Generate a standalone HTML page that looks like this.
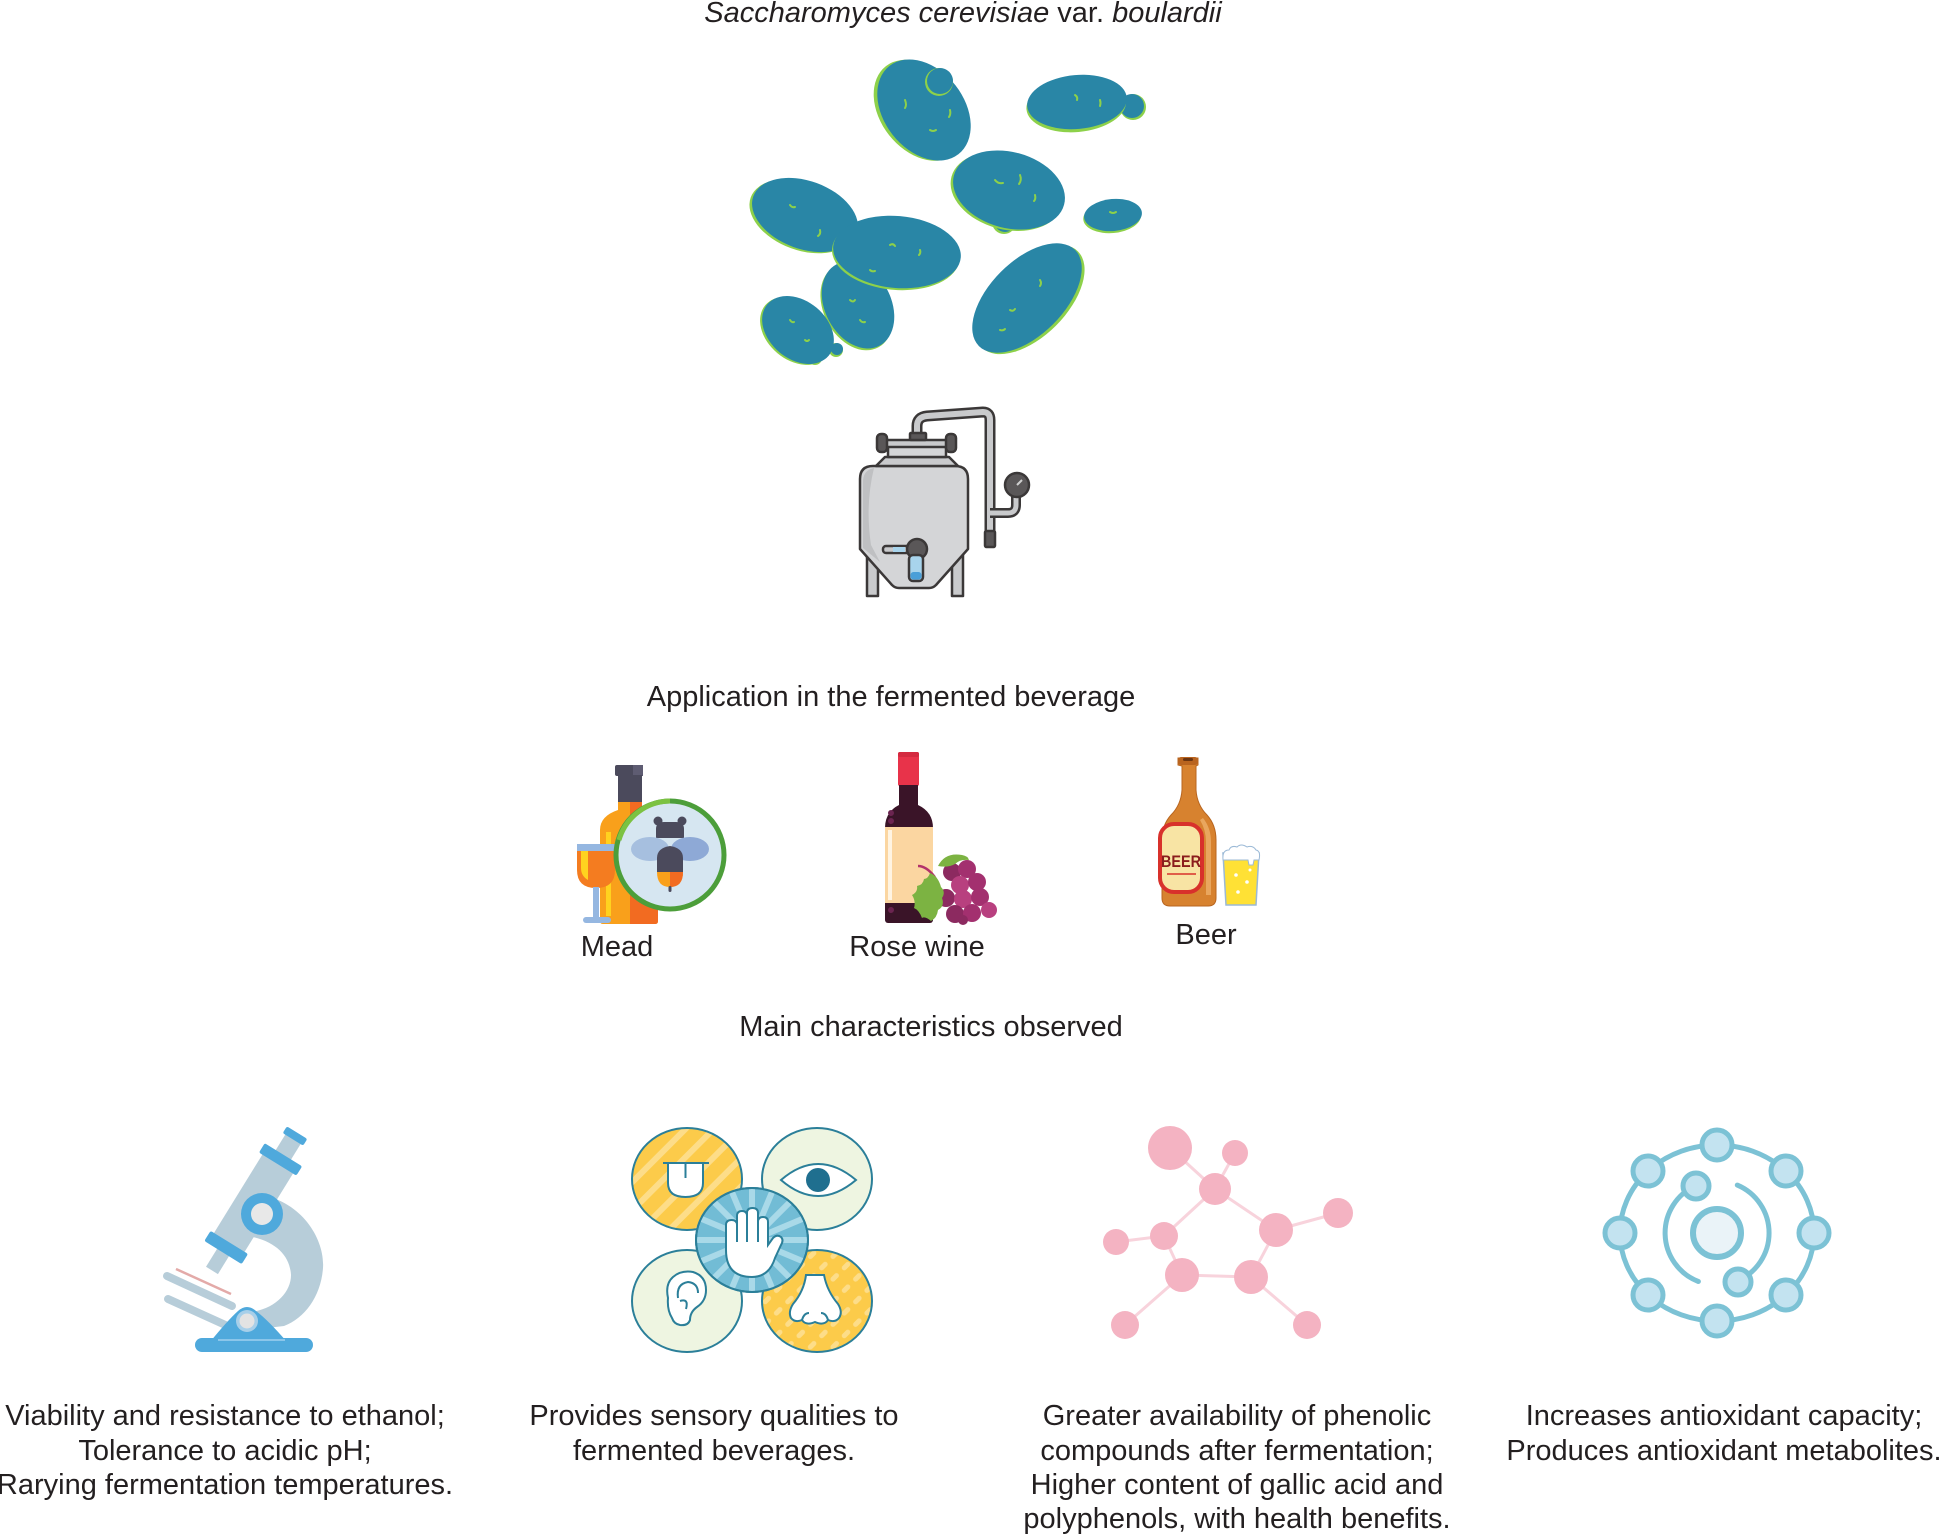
<!DOCTYPE html>
<html><head><meta charset="utf-8"><style>
html,body{margin:0;padding:0;background:#fff;}
svg{display:block;}
text{font-family:"Liberation Sans",Arial,sans-serif;fill:#231f20;}
</style></head><body>
<svg xmlns="http://www.w3.org/2000/svg" width="1939" height="1535" viewBox="0 0 1939 1535">
<defs>
 <pattern id="stripeA" width="20" height="20" patternUnits="userSpaceOnUse" patternTransform="rotate(45)"><rect x="0" y="0" width="6" height="20" fill="#fff" opacity="0.35"/></pattern>
 <pattern id="dashB" width="16" height="16" patternUnits="userSpaceOnUse" patternTransform="rotate(-45)"><rect x="2" y="3" width="10" height="5" rx="2.5" fill="#fff" opacity="0.35"/></pattern>
 <clipPath id="centerClip"><ellipse cx="752" cy="1240" rx="55" ry="51"/></clipPath>
</defs>

<!-- Title -->
<text x="963" y="22" text-anchor="middle" font-size="29"><tspan font-style="italic">Saccharomyces cerevisiae</tspan> var. <tspan font-style="italic">boulardii</tspan></text>

<!-- Yeast cells -->
<g>
 <g transform="translate(924,110) rotate(52)">
  <ellipse cx="-2" cy="3" rx="56" ry="40" fill="#8dd14a"/>
  <ellipse cx="0" cy="0" rx="56" ry="40" fill="#2986a6"/>
 </g>
 <circle cx="939" cy="82" r="14" fill="#8dd14a"/>
 <circle cx="940" cy="81" r="13" fill="#2986a6"/>
 <circle cx="1133" cy="107" r="13" fill="#8dd14a"/>
 <circle cx="1132" cy="106" r="12" fill="#2986a6"/>
 <g transform="translate(1077,102) rotate(-5)">
  <ellipse cx="-1" cy="3" rx="50" ry="27" fill="#8dd14a"/>
  <ellipse cx="0" cy="0" rx="50" ry="27" fill="#2986a6"/>
 </g>
 <circle cx="1004" cy="222" r="12" fill="#8dd14a"/>
 <circle cx="1005" cy="221" r="11" fill="#2986a6"/>
 <g transform="translate(1009,190) rotate(15)">
  <ellipse cx="-2" cy="2" rx="57" ry="38" fill="#8dd14a"/>
  <ellipse cx="0" cy="0" rx="57" ry="38" fill="#2986a6"/>
 </g>
 <g transform="translate(1113,215) rotate(-5)">
  <ellipse cx="-1" cy="2" rx="29" ry="16" fill="#8dd14a"/>
  <ellipse cx="0" cy="0" rx="29" ry="16" fill="#2986a6"/>
 </g>
 <g transform="translate(858,305) rotate(62)">
  <ellipse cx="1" cy="2" rx="46" ry="33" fill="#8dd14a"/>
  <ellipse cx="0" cy="0" rx="46" ry="33" fill="#2986a6"/>
 </g>
 <g transform="translate(805,215) rotate(20)">
  <ellipse cx="-2" cy="2" rx="55" ry="34" fill="#8dd14a"/>
  <ellipse cx="0" cy="0" rx="55" ry="34" fill="#2986a6"/>
 </g>
 <g transform="translate(897,252) rotate(5)">
  <ellipse cx="-1" cy="2" rx="64" ry="36" fill="#8dd14a"/>
  <ellipse cx="0" cy="0" rx="64" ry="36" fill="#2986a6"/>
 </g>
 <circle cx="815" cy="358" r="7" fill="#8dd14a"/>
 <circle cx="816" cy="357" r="6" fill="#2986a6"/>
 <circle cx="836" cy="350" r="7" fill="#8dd14a"/>
 <circle cx="837" cy="349" r="6" fill="#2986a6"/>
 <g transform="translate(798,330) rotate(40)">
  <ellipse cx="-1" cy="2" rx="40" ry="29" fill="#8dd14a"/>
  <ellipse cx="0" cy="0" rx="40" ry="29" fill="#2986a6"/>
 </g>
 <g transform="translate(1027,298) rotate(-45)">
  <ellipse cx="1" cy="3" rx="68" ry="37" fill="#8dd14a"/>
  <ellipse cx="0" cy="0" rx="68" ry="37" fill="#2986a6"/>
 </g>
 <g stroke="#8dd14a" stroke-width="2" fill="none" stroke-linecap="round">
  <path d="M905 100 q2 5 0 8"/><path d="M930 130 q3 2 6 0"/><path d="M950 110 q1 4 -1 7"/>
  <path d="M1075 95 q3 2 2 5"/><path d="M1100 100 q1 3 0 6"/>
  <path d="M995 180 q3 4 8 3"/><path d="M1020 175 q2 5 -1 9"/><path d="M1035 195 q1 4 -1 6"/>
  <path d="M790 205 q2 3 5 2"/><path d="M820 230 q1 4 -2 6"/>
  <path d="M890 245 q3 -2 5 1"/><path d="M920 250 q1 3 -1 5"/><path d="M870 270 q2 2 5 1"/>
  <path d="M850 300 q3 3 5 0"/><path d="M860 320 q2 3 5 2"/>
  <path d="M790 320 q2 3 4 2"/><path d="M805 340 q2 2 4 0"/>
  <path d="M1010 310 q3 2 5 -1"/><path d="M1040 280 q2 3 0 6"/><path d="M1000 330 q3 1 5 -1"/>
  <path d="M1110 212 q3 2 6 0"/>
 </g>
</g>

<!-- Fermenter -->
<g stroke="#3b3838" stroke-width="2.5" stroke-linejoin="round">
 <path d="M917 440 L917 426 Q917 417 927 416 L983 412 Q990 412 990 420 L990 533" fill="none" stroke="#3b3838" stroke-width="11" stroke-linecap="round"/>
 <path d="M917 440 L917 426 Q917 417 927 416 L983 412 Q990 412 990 420 L990 533" fill="none" stroke="#c9cacc" stroke-width="6"/>
 <path d="M990 513 L1008 513 Q1016 513 1016 505 L1016 496" fill="none" stroke="#3b3838" stroke-width="10"/>
 <path d="M990 513 L1008 513 Q1016 513 1016 505 L1016 496" fill="none" stroke="#c9cacc" stroke-width="5"/>
 <rect x="985" y="531" width="10" height="16" rx="1.5" fill="#5a5758"/>
 <circle cx="1017" cy="485" r="12" fill="#5a5758"/>
 <path d="M1017 485 l5 -5" stroke="#cfcfcf" stroke-width="2"/>
 <rect x="867" y="550" width="11" height="46" fill="#c9cacc"/>
 <rect x="952" y="550" width="11" height="46" fill="#c9cacc"/>
 <path d="M860 479 Q860 466 873 466 L955 466 Q968 466 968 479 L968 549 L936 585 Q933 588 929 588 L899 588 Q895 588 892 585 L860 549 Z" fill="#d4d5d7"/>
 <path d="M863 480 Q864 470 874 468 Q865 505 871 545 L880 562 L863 548 Z" fill="#bfc0c2" stroke="none"/>
 <path d="M876 466 L885 457 L949 457 L958 466 Z" fill="#c9cacc"/>
 <rect x="888" y="446" width="58" height="11" fill="#d4d5d7"/>
 <rect x="883" y="440" width="68" height="7" rx="2" fill="#c9cacc"/>
 <rect x="877" y="434" width="10" height="18" rx="4" fill="#5a5758"/>
 <rect x="946" y="434" width="10" height="18" rx="4" fill="#5a5758"/>
 <rect x="910" y="433" width="16" height="7" rx="1" fill="#5a5758"/>
 <rect x="883" y="546" width="30" height="7" rx="3" fill="#c9cacc"/>
 <rect x="893" y="547" width="12" height="5" fill="#a8d4ec" stroke="none"/>
 <circle cx="917" cy="549" r="10" fill="#5a5758"/>
 <rect x="909" y="555" width="14" height="26" rx="4" fill="#a8d4ec"/>
 <rect x="910.5" y="572" width="11" height="7.5" rx="3" fill="#4a9fd8" stroke="none"/>
</g>

<text x="891" y="706" text-anchor="middle" font-size="29">Application in the fermented beverage</text>

<!-- Mead icon -->
<g>
 <rect x="615" y="765" width="28" height="11" rx="2" fill="#4b4a5c"/>
 <rect x="633" y="765" width="10" height="11" fill="#5e5c72"/>
 <rect x="618" y="775" width="24" height="28" fill="#4b4a5c"/>
 <path d="M618 802 L642 802 L642 810 Q658 816 658 830 L658 921 Q658 924 655 924 L603 924 Q600 924 600 921 L600 830 Q600 816 618 810 Z" fill="#f9a01b"/>
 <path d="M630 802 L642 802 L642 810 Q658 816 658 830 L658 921 Q658 924 655 924 L630 924 Z" fill="#f26b21"/>
 <rect x="606" y="832" width="5" height="84" fill="#ffd21f"/>
 <path d="M577 844 L615 844 L615 870 Q615 888 596 888 Q577 888 577 870 Z" fill="#f47c20"/>
 <rect x="577" y="844" width="38" height="7" fill="#95b7e1"/>
 <path d="M581 851 L588 851 L588 880 Q581 876 581 868 Z" fill="#ffd21f"/>
 <rect x="593" y="887" width="6" height="31" fill="#95b7e1"/>
 <rect x="583" y="917" width="28" height="6" rx="3" fill="#95b7e1"/>
 <circle cx="670" cy="855" r="54" fill="#d6e6f1" stroke="#4c9e3a" stroke-width="5"/>
 <path d="M670 801 A54 54 0 0 0 619 840" fill="none" stroke="#7cc242" stroke-width="5"/>
 <circle cx="658" cy="821" r="4.5" fill="#4b4a5c"/>
 <circle cx="682" cy="821" r="4.5" fill="#4b4a5c"/>
 <path d="M656 838 L656 829 Q656 822 664 822 L676 822 Q684 822 684 829 L684 838 Z" fill="#4b4a5c"/>
 <ellipse cx="650" cy="849" rx="19" ry="12" fill="#a6bfdf"/>
 <ellipse cx="690" cy="849" rx="19" ry="12" fill="#8ea9d6"/>
 <path d="M657 858 Q657 848 670 846 Q683 848 683 858 L683 872 L657 872 Z" fill="#4b4a5c"/>
 <path d="M657 872 L683 872 Q683 887 670 887 Q657 887 657 872 Z" fill="#f9a01b"/>
 <path d="M670 872 L683 872 Q683 887 670 887 Z" fill="#f26b21"/>
 <rect x="668.5" y="886" width="3" height="6" rx="1.5" fill="#4b4a5c"/>
</g>
<text x="617" y="956" text-anchor="middle" font-size="29">Mead</text>

<!-- Rose wine -->
<g>
 <rect x="898" y="752" width="21" height="34" rx="2" fill="#e8334a"/>
 <rect x="898" y="752" width="21" height="5" rx="2" fill="#d42a40"/>
 <rect x="899" y="785" width="19" height="22" fill="#3a1428"/>
 <path d="M899 805 L918 805 Q933 812 933 828 L885 828 Q885 812 899 805 Z" fill="#3a1428"/>
 <rect x="885" y="826" width="48" height="97" rx="3" fill="#3a1428"/>
 <rect x="885" y="827" width="48" height="76" fill="#fbd6a1"/>
 <rect x="888" y="830" width="4" height="70" fill="#fff4e2"/>
 <circle cx="891" cy="813" r="3" fill="#6b2450"/>
 <circle cx="891" cy="821" r="3" fill="#6b2450"/>
 <circle cx="891" cy="910" r="3" fill="#6b2450"/>
 <path d="M918 866 Q926 866 934 876 L938 883" stroke="#b3336b" stroke-width="2.5" fill="none"/>
 <g>
  <circle cx="952" cy="872" r="9" fill="#8c2a60"/>
  <circle cx="967" cy="869" r="9" fill="#a3306f"/>
  <circle cx="960" cy="885" r="9" fill="#b8407f"/>
  <circle cx="977" cy="882" r="9" fill="#a3306f"/>
  <circle cx="946" cy="898" r="9" fill="#8c2a60"/>
  <circle cx="963" cy="899" r="9" fill="#b8407f"/>
  <circle cx="980" cy="897" r="9" fill="#a3306f"/>
  <circle cx="989" cy="910" r="8" fill="#b8407f"/>
  <circle cx="955" cy="914" r="9" fill="#8c2a60"/>
  <circle cx="972" cy="913" r="9" fill="#a3306f"/>
  <circle cx="963" cy="920" r="5" fill="#8c2a60"/>
 </g>
 <path d="M938 866 Q945 852 962 855 Q968 856 969 860 Q960 859 955 864 Q948 868 938 866 Z" fill="#7cb342"/>
 <path d="M930 873 Q938 876 941 887 Q946 892 942 898 Q945 906 938 910 Q937 918 931 921 Q925 916 922 918 Q919 910 914 908 Q916 901 912 895 Q918 892 917 886 Q923 885 924 879 Q928 879 930 873 Z" fill="#7cb342"/>
</g>
<text x="917" y="956" text-anchor="middle" font-size="29">Rose wine</text>

<!-- Beer -->
<g>
 <path d="M1178 758 L1198 758 L1198 765 L1196 766 L1196 790 Q1197 805 1207 815 Q1216 825 1216 840 L1216 898 Q1216 906 1208 906 L1170 906 Q1162 906 1162 898 L1162 840 Q1162 825 1171 815 Q1181 805 1182 790 L1182 766 L1178 765 Z" fill="#d7822f" stroke="#b8651f" stroke-width="1"/>
 <rect x="1178" y="757" width="20" height="8" rx="3" fill="#b9641f"/>
 <rect x="1183" y="758" width="10" height="3" rx="1.5" fill="#6b3410"/>
 <path d="M1203 818 Q1211 828 1211 842 L1211 895 L1206 895 L1206 842 Q1206 830 1200 820 Z" fill="#e9a65e"/>
 <rect x="1160" y="824" width="42" height="68" rx="14" fill="#f8e4a4" stroke="#d8312b" stroke-width="4"/>
 <text x="1181" y="867" text-anchor="middle" font-size="17" font-weight="bold" textLength="40" lengthAdjust="spacingAndGlyphs" style="fill:#8b1d1d">BEER</text>
 <line x1="1167" y1="874" x2="1196" y2="874" stroke="#d8312b" stroke-width="1.5"/>
 <path d="M1223 853 L1259 853 L1256 905 L1226 905 Z" fill="#ffe135" stroke="#9bb9d6" stroke-width="1.5"/>
 <path d="M1223 860 Q1222 850 1229 850 Q1231 845 1237 847 Q1241 843 1247 847 Q1253 845 1256 850 Q1261 851 1259 860 L1254 860 L1253 865 L1249 865 L1248 860 Z" fill="#fff" stroke="#9bb9d6" stroke-width="1"/>
 <circle cx="1236" cy="875" r="1.8" fill="#fff"/>
 <circle cx="1247" cy="882" r="1.8" fill="#fff"/>
 <circle cx="1238" cy="892" r="1.8" fill="#fff"/>
 <circle cx="1250" cy="870" r="1.5" fill="#fff"/>
</g>
<text x="1206" y="944" text-anchor="middle" font-size="29">Beer</text>

<text x="931" y="1036" text-anchor="middle" font-size="29">Main characteristics observed</text>

<!-- Microscope -->
<g>
 <line x1="168" y1="1299" x2="232" y2="1328" stroke="#b7cdd9" stroke-width="8" stroke-linecap="round"/>
 <line x1="167" y1="1276" x2="232" y2="1306" stroke="#b7cdd9" stroke-width="8" stroke-linecap="round"/>
 <line x1="176" y1="1269" x2="231" y2="1294" stroke="#e3aaa8" stroke-width="2.5"/>
 <path d="M262 1195 C303 1203 325 1240 323 1268 C321 1296 305 1318 284 1326 L250 1330 L252 1312 C276 1308 291 1292 291 1275 C290 1256 276 1241 248 1236 Z" fill="#b7cdd9"/>
 <g transform="translate(295,1136) rotate(31.7)">
  <rect x="-9" y="0" width="18" height="30" fill="#b7cdd9"/>
  <rect x="-18" y="30" width="36" height="98" fill="#b7cdd9"/>
  <rect x="-7" y="134" width="14" height="24" fill="#b7cdd9"/>
  <rect x="-12" y="-4" width="24" height="8" rx="2" fill="#4fa9dc"/>
  <rect x="-22" y="22" width="44" height="11" rx="2" fill="#4fa9dc"/>
  <rect x="-22" y="125" width="44" height="12" rx="2" fill="#4fa9dc"/>
 </g>
 <circle cx="262" cy="1214" r="21" fill="#4fa9dc"/>
 <circle cx="262" cy="1214" r="11" fill="#e8e8e8"/>
 <path d="M210 1342 Q228 1320 238 1311 Q247 1303 256 1311 Q268 1320 287 1342 Z" fill="#4fa9dc"/>
 <circle cx="247" cy="1321" r="11" fill="#a7cfe9"/>
 <circle cx="247" cy="1321" r="7.5" fill="#e3e3e3"/>
 <rect x="195" y="1338" width="118" height="14" rx="7" fill="#4fa9dc"/>
 <line x1="218" y1="1340" x2="285" y2="1340" stroke="#9fd0ee" stroke-width="1.5"/>
</g>

<!-- Senses -->
<g stroke="#2b7f99" stroke-width="2">
 <ellipse cx="687" cy="1179" rx="55" ry="51" fill="#fccb4a"/>
 <ellipse cx="687" cy="1179" rx="54" ry="50" fill="url(#stripeA)" stroke="none"/>
 <ellipse cx="817" cy="1179" rx="55" ry="51" fill="#eef5e1"/>
 <ellipse cx="687" cy="1301" rx="55" ry="51" fill="#eef5e1"/>
 <ellipse cx="817" cy="1301" rx="55" ry="51" fill="#fccb4a"/>
 <ellipse cx="817" cy="1301" rx="54" ry="50" fill="url(#dashB)" stroke="none"/>
 <ellipse cx="752" cy="1240" rx="56" ry="52" fill="#72bcd5"/>
 <g clip-path="url(#centerClip)" stroke="#a9d9e8" stroke-width="6">
  <line x1="752" y1="1240" x2="812" y2="1240"/><line x1="752" y1="1240" x2="807" y2="1263"/>
  <line x1="752" y1="1240" x2="794" y2="1282"/><line x1="752" y1="1240" x2="775" y2="1295"/>
  <line x1="752" y1="1240" x2="752" y2="1300"/><line x1="752" y1="1240" x2="729" y2="1295"/>
  <line x1="752" y1="1240" x2="710" y2="1282"/><line x1="752" y1="1240" x2="697" y2="1263"/>
  <line x1="752" y1="1240" x2="692" y2="1240"/><line x1="752" y1="1240" x2="697" y2="1217"/>
  <line x1="752" y1="1240" x2="710" y2="1198"/><line x1="752" y1="1240" x2="729" y2="1185"/>
  <line x1="752" y1="1240" x2="752" y2="1180"/><line x1="752" y1="1240" x2="775" y2="1185"/>
  <line x1="752" y1="1240" x2="794" y2="1198"/><line x1="752" y1="1240" x2="807" y2="1217"/>
 </g>
 <ellipse cx="752" cy="1240" rx="56" ry="52" fill="none"/>
 <path d="M726 1250 L726 1225 Q726 1220 731.5 1220 Q737 1220 737 1225 L737 1216 Q737 1211 742 1211 Q747 1211 747 1216 L747 1213 Q747 1208 752.5 1208 Q758 1208 758 1213 L758 1222 Q758 1217 763 1217 Q768 1217 768 1222 L768 1245 L773 1238 Q777 1234 781 1237 Q784 1240 781 1245 L775 1258 Q769 1277 752 1277 Q726 1277 726 1250 Z" fill="#fff"/>
 <path d="M737 1225 L737 1242 M747 1216 L747 1242 M758 1222 L758 1242" fill="none"/>
 <line x1="663" y1="1163" x2="709" y2="1163"/>
 <path d="M668 1163 L668 1183 Q668 1197 685.5 1197 Q703 1197 703 1183 L703 1163 Z" fill="#fff"/>
 <line x1="685.5" y1="1163" x2="685.5" y2="1178"/>
 <path d="M781 1180 Q818 1148 856 1180 Q818 1212 781 1180 Z" fill="#fff"/>
 <circle cx="818" cy="1180" r="12" fill="#1f6f8f" stroke="none"/>
 <path d="M672 1318 Q667 1310 668 1298 Q665 1284 673 1277 Q681 1270 693 1272 Q706 1276 706 1290 Q706 1301 697 1307 Q690 1312 690 1320 Q688 1326 680 1325 Q674 1324 672 1318 Z" fill="#fff"/>
 <path d="M678 1298 Q676 1284 688 1282 Q698 1283 698 1293" fill="none"/>
 <path d="M680 1301 Q689 1298 686 1309" fill="none"/>
 <path d="M806 1275 L824 1275 Q827 1291 838 1304 Q843 1312 839 1318 Q835 1323 828 1320 Q824 1326 815 1322 Q806 1326 802 1320 Q795 1323 791 1318 Q788 1312 793 1304 Q804 1291 806 1275 Z" fill="#fff"/>
 <path d="M802 1320 Q804 1313 809 1313 M828 1320 Q826 1313 821 1313" fill="none"/>
</g>

<!-- Molecule -->
<g stroke="#f8d3dc" stroke-width="3">
 <line x1="1170" y1="1148" x2="1215" y2="1189"/>
 <line x1="1235" y1="1153" x2="1215" y2="1189"/>
 <line x1="1215" y1="1189" x2="1164" y2="1236"/>
 <line x1="1215" y1="1189" x2="1276" y2="1230"/>
 <line x1="1276" y1="1230" x2="1338" y2="1213"/>
 <line x1="1276" y1="1230" x2="1251" y2="1277"/>
 <line x1="1251" y1="1277" x2="1182" y2="1275"/>
 <line x1="1182" y1="1275" x2="1164" y2="1236"/>
 <line x1="1164" y1="1236" x2="1116" y2="1242"/>
 <line x1="1182" y1="1275" x2="1125" y2="1325"/>
 <line x1="1251" y1="1277" x2="1307" y2="1325"/>
</g>
<g fill="#f4b3c2">
 <circle cx="1170" cy="1148" r="22"/>
 <circle cx="1235" cy="1153" r="13"/>
 <circle cx="1215" cy="1189" r="16"/>
 <circle cx="1338" cy="1213" r="15"/>
 <circle cx="1276" cy="1230" r="17"/>
 <circle cx="1116" cy="1242" r="13"/>
 <circle cx="1164" cy="1236" r="14"/>
 <circle cx="1182" cy="1275" r="17"/>
 <circle cx="1251" cy="1277" r="17"/>
 <circle cx="1125" cy="1325" r="14"/>
 <circle cx="1307" cy="1325" r="14"/>
</g>

<!-- Atom -->
<g stroke="#7cc2d5" stroke-width="5" fill="#c3e3f0">
 <ellipse cx="1717" cy="1233" rx="97" ry="88" fill="none"/>
 <path d="M1698.4 1281.5 A52 52 0 0 1 1695.9 1185.5" fill="none" stroke-linecap="round"/>
 <path d="M1737.3 1185.1 A52 52 0 0 1 1737.3 1280.9" fill="none" stroke-linecap="round"/>
 <circle cx="1814" cy="1233" r="15"/>
 <circle cx="1786" cy="1171" r="15"/>
 <circle cx="1717" cy="1145" r="15"/>
 <circle cx="1648" cy="1171" r="15"/>
 <circle cx="1620" cy="1233" r="15"/>
 <circle cx="1648" cy="1295" r="15"/>
 <circle cx="1717" cy="1321" r="15"/>
 <circle cx="1786" cy="1295" r="15"/>
 <circle cx="1696" cy="1186" r="13"/>
 <circle cx="1738" cy="1282" r="13"/>
 <circle cx="1717" cy="1233" r="24" fill="#eaf3f8" stroke-width="6"/>
</g>

<!-- Bottom texts -->
<g font-size="29" text-anchor="middle">
 <text x="225" y="1425">Viability and resistance to ethanol;</text>
 <text x="225" y="1460">Tolerance to acidic pH;</text>
 <text x="225" y="1494">Rarying fermentation temperatures.</text>

 <text x="714" y="1425">Provides sensory qualities to</text>
 <text x="714" y="1460">fermented beverages.</text>

 <text x="1237" y="1425">Greater availability of phenolic</text>
 <text x="1237" y="1460">compounds after fermentation;</text>
 <text x="1237" y="1494">Higher content of gallic acid and</text>
 <text x="1237" y="1528">polyphenols, with health benefits.</text>

 <text x="1724" y="1425">Increases antioxidant capacity;</text>
 <text x="1724" y="1460">Produces antioxidant metabolites.</text>
</g>
</svg>
</body></html>
